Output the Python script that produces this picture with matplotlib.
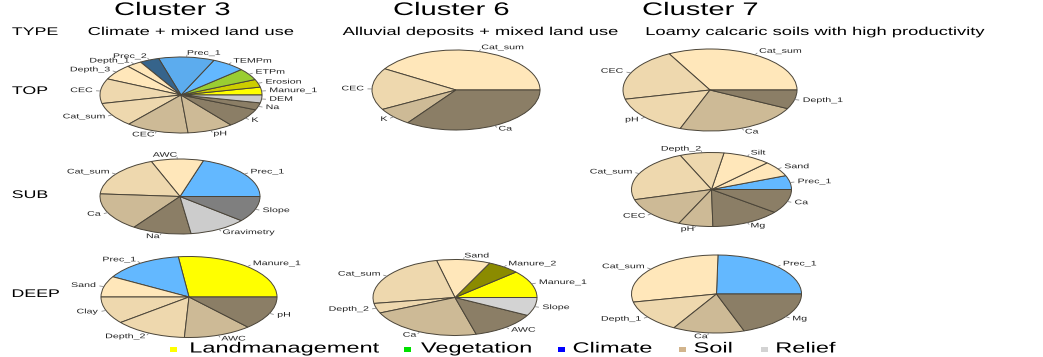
import numpy as np
import matplotlib
matplotlib.use("Agg")
import matplotlib.pyplot as plt
from matplotlib.patches import Rectangle
from matplotlib.patheffects import AbstractPathEffect
from matplotlib.transforms import Affine2D

W, H = 1043, 357

# ---- palette -------------------------------------------------------------
WHEAT1, WHEAT2, WHEAT3, WHEAT4 = "#FFE7BA", "#EED8AE", "#CDBA96", "#8B7E66"
SKY1, SKY2, STEEL4 = "#63B8FF", "#5CACEE", "#36648B"
YELLOW, YELLOW3, YELLOW4 = "#FFFF00", "#CDCD00", "#8B8B00"
OLIVE = "#9ACD32"
GREY_L, GREY_D = "#CCCCCC", "#7F7F7F"
EDGE = "#4a4438"
TICK = "#777777"

# ---- data ----------------------------------------------------------------
clusters = ["Cluster 3", "Cluster 6", "Cluster 7"]
cluster_types = ["Climate + mixed land use",
                 "Alluvial deposits + mixed land use",
                 "Loamy calcaric soils with high productivity"]
row_names = ["TYPE", "TOP", "SUB", "DEEP"]

c3_top_labels = ["Manure_1", "Erosion", "ETPm", "TEMPm", "Prec_1", "Prec_2",
                 "Depth_1", "Depth_3", "CEC", "Cat_sum", "CEC", "pH", "K",
                 "Na", "DEM"]
c3_top_values = [12, 12, 18, 24, 40, 14, 11, 24, 38, 37, 45, 33, 29, 11, 12]
c3_top_colors = [YELLOW, YELLOW3, OLIVE, SKY1, SKY2, STEEL4, WHEAT1, WHEAT1,
                 WHEAT2, WHEAT2, WHEAT3, WHEAT3, WHEAT4, WHEAT4, GREY_L]

c6_top_labels = ["Cat_sum", "CEC", "K", "Ca"]
c6_top_values = [148, 61, 26, 125]
c6_top_colors = [WHEAT1, WHEAT2, WHEAT3, WHEAT4]

c7_top_labels = ["Cat_sum", "CEC", "pH", "Ca", "Depth_1"]
c7_top_values = [118, 75, 57, 83, 27]
c7_top_colors = [WHEAT1, WHEAT2, WHEAT2, WHEAT3, WHEAT4]

c3_sub_labels = ["Prec_1", "AWC", "Cat_sum", "Ca", "Na", "Gravimetry", "Slope"]
c3_sub_values = [73, 38, 65, 59, 43, 42, 40]
c3_sub_colors = [SKY1, WHEAT1, WHEAT2, WHEAT3, WHEAT4, GREY_L, GREY_D]

c7_sub_labels = ["Prec_1", "Sand", "Silt", "Depth_2", "Cat_sum", "CEC", "pH",
                 "Mg", "Ca"]
c7_sub_values = [22, 24, 35, 32, 83, 50, 25, 51, 38]
c7_sub_colors = [SKY1, WHEAT1, WHEAT1, WHEAT2, WHEAT2, WHEAT3, WHEAT3,
                 WHEAT4, WHEAT4]

c3_deep_labels = ["Manure_1", "Prec_1", "Sand", "Clay", "Depth_2", "AWC", "pH"]
c3_deep_values = [97, 53, 30, 39, 48, 45, 48]
c3_deep_colors = [YELLOW, SKY1, WHEAT1, WHEAT2, WHEAT2, WHEAT3, WHEAT4]

c6_deep_labels = ["Manure_1", "Manure_2", "Sand", "Cat_sum", "Depth_2", "Ca",
                  "AWC", "Slope"]
c6_deep_values = [42, 23, 38, 86, 15, 81, 47, 28]
c6_deep_colors = [YELLOW, YELLOW4, WHEAT1, WHEAT2, WHEAT2, WHEAT3, WHEAT4,
                  "#D3D3D3"]

c7_deep_labels = ["Prec_1", "Cat_sum", "Depth_1", "Ca", "Mg"]
c7_deep_values = [89, 103, 48, 49, 71]
c7_deep_colors = [SKY1, WHEAT1, WHEAT2, WHEAT3, WHEAT4]

legend_labels = ["Landmanagement", "Vegetation", "Climate", "Soil", "Relief"]
legend_colors = [YELLOW, "#00E000", "#0000FF", "#D2B48C", "#D3D3D3"]


# ---- wide lettering ------------------------------------------------------
class WideText(AbstractPathEffect):
    """Stretch glyph outlines horizontally around the text anchor."""

    def __init__(self, sx=1.6, anchor="center"):
        super().__init__()
        self.sx = sx
        self.anchor = anchor

    def draw_path(self, renderer, gc, tpath, affine, rgbFace=None):
        ext = affine.transform_path(tpath).get_extents()
        if self.anchor == "left":
            x0 = ext.x0
        elif self.anchor == "right":
            x0 = ext.x1
        else:
            x0 = 0.5 * (ext.x0 + ext.x1)
        stretch = Affine2D().translate(-x0, 0).scale(self.sx, 1.0).translate(x0, 0)
        renderer.draw_path(gc, tpath, affine + stretch, rgbFace)


FONT = "Liberation Sans"
SX = 1.6


def wtext(ax, x, y, s, size, ha="left", **kw):
    return ax.text(x, y, s, fontsize=size, ha=ha, va="center", family=FONT,
                   path_effects=[WideText(SX, ha)], **kw)


fig = plt.figure(figsize=(W / 100, H / 100), dpi=100)
fig.patch.set_facecolor("white")

# overlay in pixel coordinates for titles and legend
ax0 = fig.add_axes([0, 0, 1, 1])
ax0.set_xlim(0, W)
ax0.set_ylim(H, 0)
ax0.axis("off")

for name, x in zip(clusters, [172, 451, 700]):
    wtext(ax0, x, 10.5, name, 13.1, ha="center")
for name, x in zip(cluster_types, [191.5, 481, 816]):
    wtext(ax0, x, 32, name, 8.25, ha="center")
for name, y in zip(row_names, [32, 91, 195, 294]):
    wtext(ax0, 12, y, name, 8.0, ha="left")


def draw_pie(cx, cy, rx, ry, labels, values, colors):
    ax = fig.add_axes([(cx - rx) / W, 1 - (cy + ry) / H, 2 * rx / W, 2 * ry / H])
    ax.pie(values, colors=colors, startangle=0, counterclock=True, radius=1,
           wedgeprops=dict(edgecolor=EDGE, linewidth=0.7))
    ax.set_aspect("auto")
    ax.set_xlim(-1, 1)
    ax.set_ylim(-1, 1)
    ax.axis("off")
    v = np.asarray(values, dtype=float)
    cum = np.concatenate([[0.0], np.cumsum(v)]) / v.sum() * 360.0
    mids = np.deg2rad(0.5 * (cum[:-1] + cum[1:]))
    for lab, a in zip(labels, mids):
        c, s = np.cos(a), np.sin(a)
        ax.plot([c, 1.05 * c], [s, 1.05 * s], color=TICK, lw=0.5, clip_on=False)
        ha = "left" if c >= 0 else "right"
        wtext(ax, 1.1 * c, 1.1 * s, lab, 4.8, ha=ha, color="#222222",
              clip_on=False)


draw_pie(181, 95, 81, 38, c3_top_labels, c3_top_values, c3_top_colors)
draw_pie(456, 90, 84, 40, c6_top_labels, c6_top_values, c6_top_colors)
draw_pie(710, 90, 87, 41, c7_top_labels, c7_top_values, c7_top_colors)
draw_pie(180, 196.5, 80, 37.5, c3_sub_labels, c3_sub_values, c3_sub_colors)
draw_pie(711.5, 189.5, 80, 37, c7_sub_labels, c7_sub_values, c7_sub_colors)
draw_pie(189, 297, 88, 40.5, c3_deep_labels, c3_deep_values, c3_deep_colors)
draw_pie(455, 297.5, 82, 38, c6_deep_labels, c6_deep_values, c6_deep_colors)
draw_pie(716.5, 294, 85, 39, c7_deep_labels, c7_deep_values, c7_deep_colors)

# legend along the bottom edge
for lab, col, xs, xt in zip(legend_labels, legend_colors,
                            [173, 407, 561, 682, 764],
                            [190, 421, 573, 694, 776]):
    ax0.add_patch(Rectangle((xs - 3.5, 346.5), 7, 5, facecolor=col,
                            edgecolor="none"))
    wtext(ax0, xt, 348.5, lab, 10.6, ha="left")

fig.savefig("out.png", dpi=100)
